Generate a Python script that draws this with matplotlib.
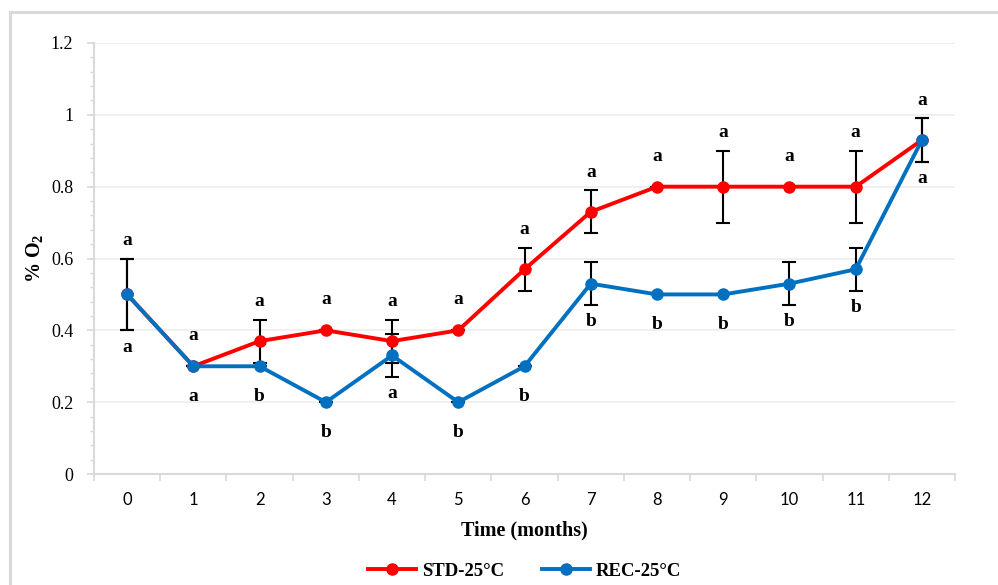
import matplotlib
matplotlib.use("Agg")
import matplotlib.pyplot as plt
from matplotlib.patches import Rectangle
import numpy as np

# data
months = np.arange(0, 13)
std_vals = [0.50, 0.30, 0.37, 0.40, 0.37, 0.40, 0.57, 0.73, 0.80, 0.80, 0.80, 0.80, 0.93]
std_err = [0.10, 0.00, 0.06, 0.00, 0.06, 0.00, 0.06, 0.06, 0.00, 0.10, 0.00, 0.10, 0.06]
rec_vals = [0.50, 0.30, 0.30, 0.20, 0.33, 0.20, 0.30, 0.53, 0.50, 0.50, 0.53, 0.57, 0.93]
rec_err = [0.10, 0.00, 0.00, 0.00, 0.06, 0.00, 0.00, 0.06, 0.00, 0.00, 0.06, 0.06, 0.06]
std_letters = ["a"] * 13
rec_letters = ["a", "a", "b", "b", "a", "b", "b", "b", "b", "b", "b", "b", "a"]

red = "#FF0000"
blue = "#0070C0"
serif = "Liberation Serif"
plt.rcParams["mathtext.default"] = "regular"

fig = plt.figure(figsize=(9.98, 5.85), dpi=100)
ax = fig.add_axes([0.0942, 0.1897, 0.8628, 0.7368])

# outer light frame like the pasted excel chart
fig.patches.append(Rectangle((10 / 998, -0.1), 1.2, 1 - 12 / 585 + 0.1, transform=fig.transFigure,
                             fill=False, edgecolor="#d9d9d9", linewidth=2.2))

ax.errorbar(months, std_vals, yerr=std_err, fmt="none", ecolor="black", elinewidth=1.5,
            capsize=5, capthick=1.5, zorder=2)
ax.errorbar(months, rec_vals, yerr=rec_err, fmt="none", ecolor="black", elinewidth=1.5,
            capsize=5, capthick=1.5, zorder=2)
ax.plot(months, std_vals, color=red, lw=2.8, marker="o", ms=8, label="STD-25\u00b0C", zorder=3)
ax.plot(months, rec_vals, color=blue, lw=2.8, marker="o", ms=8, label="REC-25\u00b0C", zorder=4)

# significance letters: STD above, REC below
for x, v, e, t in zip(months, std_vals, std_err, std_letters):
    off = 13 if e > 0 else 22
    ax.annotate(t, (x, v + e), xytext=(0, off), textcoords="offset points", ha="center",
                va="center", fontsize=14, fontweight="bold", family=serif)
for x, v, e, t in zip(months, rec_vals, rec_err, rec_letters):
    off = 12 if e > 0 else 22
    ax.annotate(t, (x, v - e), xytext=(0, -off), textcoords="offset points", ha="center",
                va="center", fontsize=14, fontweight="bold", family=serif)

ax.set_xlim(-0.5, 12.5)
ax.set_ylim(0, 1.2)
ax.set_yticks(np.arange(0, 1.21, 0.2))
ax.set_yticklabels(["0", "0.2", "0.4", "0.6", "0.8", "1", "1.2"], family=serif, fontsize=13)
ax.set_yticks(np.arange(0, 1.21, 0.04), minor=True)
ax.set_xticks(months)
ax.set_xticklabels([str(m) for m in months], family="Lato", fontsize=12)
ax.set_xticks(np.arange(-0.5, 12.6, 1), minor=True)
ax.tick_params(axis="x", which="major", length=0, pad=13)
ax.tick_params(axis="x", which="minor", length=5, color="#d9d9d9", width=1.2)
ax.tick_params(axis="y", which="major", length=5, color="#d9d9d9", width=1.2, pad=10)
ax.tick_params(axis="y", which="minor", length=3, color="#d9d9d9", width=1)

ax.grid(axis="y", which="major", color="#eeeeee", lw=1.2)
ax.set_axisbelow(True)
for s in ["top", "right"]:
    ax.spines[s].set_visible(False)
for s in ["left", "bottom"]:
    ax.spines[s].set_color("#d9d9d9")
    ax.spines[s].set_linewidth(1.5)

ax.set_xlabel("Time (months)", family=serif, fontweight="bold", fontsize=14.5, labelpad=9)
ax.set_ylabel("% O$_2$", family=serif, fontweight="bold", fontsize=14.5, labelpad=4)

leg = ax.legend(loc="center", bbox_to_anchor=(0.5, -0.225), ncol=2, frameon=False,
                prop={"family": serif, "weight": "bold", "size": 13.5},
                handlelength=2.6, columnspacing=2.0, handletextpad=0.3)

fig.savefig("out.png", dpi=100)
